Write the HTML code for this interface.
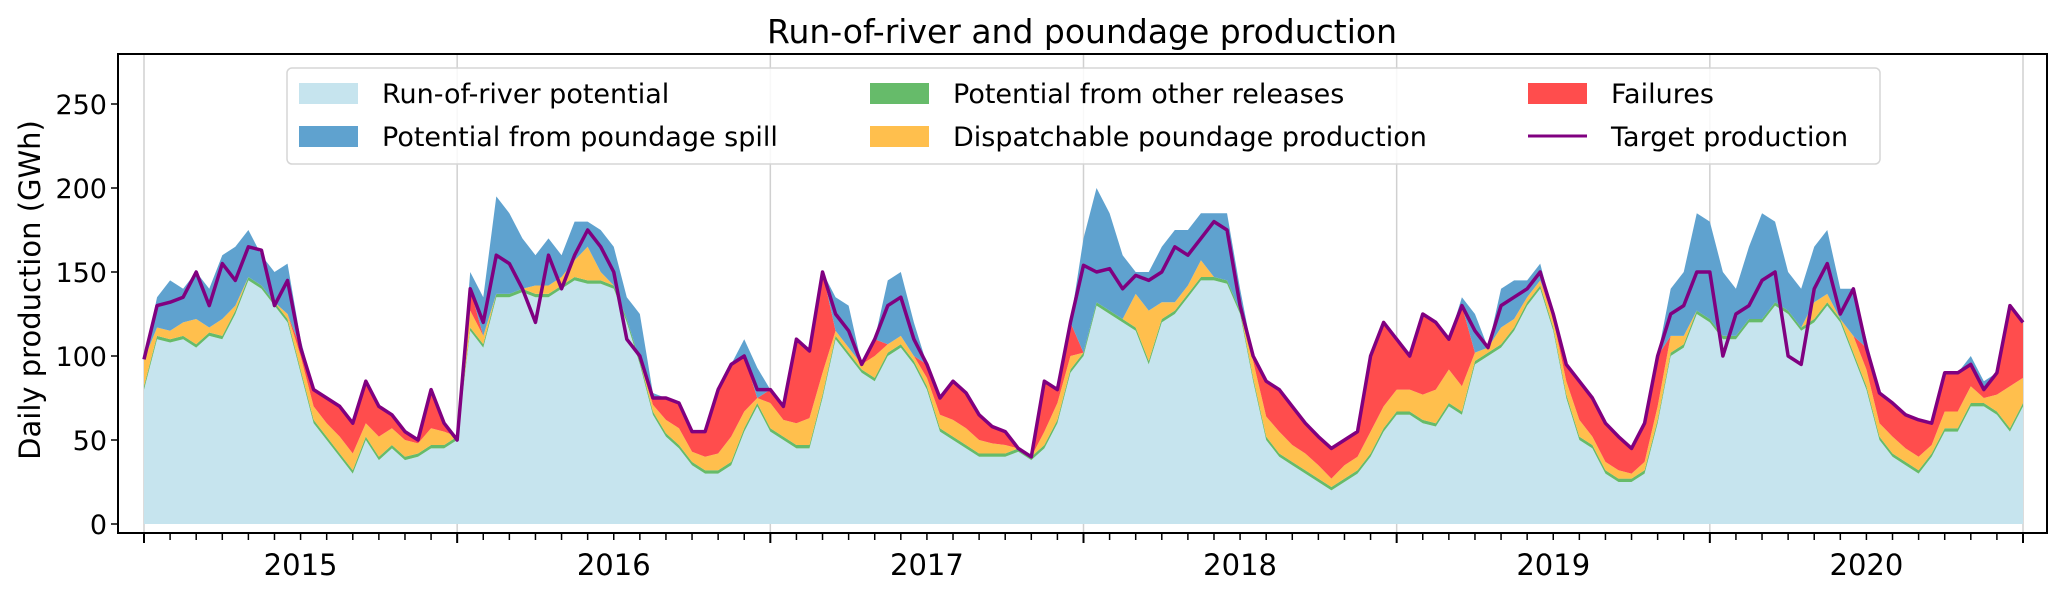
<!DOCTYPE html>
<html><head><meta charset="utf-8"><style>
html,body{margin:0;padding:0;background:#fff;}
svg{display:block;font-family:"DejaVu Sans","Liberation Sans",sans-serif;}
</style></head><body>
<svg id="chart" width="2067" height="594" viewBox="0 0 2067 594" xmlns="http://www.w3.org/2000/svg">
<text x="1082" y="43" font-size="33" text-anchor="middle" fill="#000">Run-of-river and poundage production</text>
<text transform="translate(40,290) rotate(-90)" font-size="29" text-anchor="middle" fill="#000">Daily production (GWh)</text>
<g id="grid"></g>
<g id="areas"></g>
<g id="line"></g>
<g id="axes"></g>
<g id="legend">
  <rect x="287" y="68" width="1593" height="96" rx="5" fill="#fff" fill-opacity="0.85" stroke="#d6d6d6" stroke-width="1.5"/>
  <rect x="299" y="83" width="59" height="21" fill="#c6e4ee"/>
  <text x="382" y="103" font-size="27">Run-of-river potential</text>
  <rect x="299" y="126" width="59" height="21" fill="#5fa2cf"/>
  <text x="382" y="146" font-size="27">Potential from poundage spill</text>
  <rect x="870" y="83" width="59" height="21" fill="#66bb6a"/>
  <text x="953" y="103" font-size="27">Potential from other releases</text>
  <rect x="870" y="126" width="59" height="21" fill="#ffbf4d"/>
  <text x="953" y="146" font-size="27">Dispatchable poundage production</text>
  <rect x="1528" y="83" width="59" height="21" fill="#ff4d4d"/>
  <text x="1611" y="103" font-size="27">Failures</text>
  <line x1="1528" y1="136" x2="1587" y2="136" stroke="#800080" stroke-width="3"/>
  <text x="1611" y="146" font-size="27">Target production</text>
</g>
</svg>
<script>
const years = ["2015","2016","2017","2018","2019","2020"];
const yTicks = [0,50,100,150,200,250];
const river = [80,110,108,110,105,112,110,125,145,140,130,120,90,60,50,40,30,50,38,45,38,40,45,45,
50,115,105,135,135,138,135,135,140,145,143,143,140,120,95,65,52,45,35,30,30,35,55,70,
55,50,45,45,75,110,100,90,85,100,105,95,80,55,50,45,40,40,40,43,38,45,60,90,
100,130,125,120,115,95,120,125,135,145,145,143,125,85,50,40,35,30,25,20,25,30,40,55,
65,65,60,58,70,65,95,100,105,115,130,140,115,75,50,45,30,25,25,30,60,100,105,125,
120,110,110,120,120,130,125,115,120,130,120,100,80,50,40,35,30,40,55,55,70,70,65,55,70];
const other = [2,2,2,2,2,2,2,2,2,2,2,2,2,2,2,2,2,2,2,2,2,2,2,2,
2,2,2,2,2,2,2,2,2,2,2,2,2,2,2,2,2,2,2,2,2,2,2,2,
2,2,2,2,2,2,2,2,2,2,2,2,2,2,2,2,2,2,2,2,2,2,2,2,
2,2,2,2,2,2,2,2,2,2,2,2,2,2,2,2,2,2,2,2,2,2,2,2,
2,2,2,2,2,2,2,2,2,2,2,2,2,2,2,2,2,2,2,2,2,2,2,2,
2,2,2,2,2,2,2,2,2,2,2,2,2,2,2,2,2,2,2,2,2,2,2,2,2];
const dispatch = [16,5,5,8,15,3,10,3,0,0,0,3,8,8,8,10,10,8,12,10,10,6,10,8,
0,10,5,0,0,0,5,5,5,10,20,5,0,0,0,4,8,10,6,8,10,15,10,3,
15,10,13,16,13,3,3,3,13,5,5,3,5,8,10,10,8,6,5,0,0,8,10,8,
0,0,0,0,20,30,10,5,5,10,0,0,0,10,12,13,10,10,8,5,8,8,13,13,
13,13,15,20,20,15,5,3,10,5,3,3,5,8,10,5,5,5,3,5,8,10,5,0,
0,0,0,0,0,0,0,0,10,5,0,10,10,8,10,8,8,5,10,10,10,3,10,25,15];
const failures = [0,0,0,0,0,0,0,0,0,0,0,0,5,10,15,18,18,25,18,8,5,2,23,5,
0,13,0,0,0,0,0,0,0,0,0,0,0,0,0,4,13,15,12,15,38,43,33,0,
8,8,50,40,60,0,0,0,10,0,0,0,8,10,23,21,15,10,8,0,0,30,8,20,
0,0,0,0,0,0,0,0,0,0,0,0,0,3,21,25,23,18,17,18,15,15,45,50,
30,20,48,40,18,48,0,0,0,0,0,0,3,10,23,23,23,20,15,23,30,0,0,0,
0,0,0,0,0,0,0,0,0,0,0,0,13,18,20,20,22,13,23,23,13,5,13,48,33];
const spill = [0,18,30,20,28,23,38,35,28,18,18,30,5,0,0,0,0,0,0,0,0,0,0,0,
0,10,23,58,48,30,18,28,13,23,15,25,23,13,28,3,0,0,0,0,0,0,10,18,
0,0,0,0,0,20,25,0,0,38,38,20,0,0,0,0,0,0,0,0,0,0,0,0,
68,68,58,38,13,23,33,43,33,28,38,40,13,0,0,0,0,0,0,0,0,0,0,0,
0,0,0,0,0,5,23,0,23,23,10,10,0,0,0,0,0,0,0,0,0,28,38,58,
58,38,28,43,63,48,23,23,33,38,18,28,5,0,0,0,0,0,0,0,5,5,0,0,0];
const target = [98,130,132,135,150,130,155,145,165,163,130,145,105,80,75,70,60,85,70,65,55,50,80,60,
50,140,120,160,155,140,120,160,140,160,175,165,150,110,100,75,75,72,55,55,80,95,100,80,
80,70,110,103,150,125,115,95,110,130,135,110,95,75,85,78,65,58,55,45,40,85,80,120,
154,150,152,140,148,145,150,165,160,170,180,175,130,100,85,80,70,60,52,45,50,55,100,120,
110,100,125,120,110,130,115,105,130,135,140,150,125,95,85,75,60,52,45,60,100,125,130,150,
150,100,125,130,145,150,100,95,140,155,125,140,105,78,72,65,62,60,90,90,95,80,90,130,120];

const NS = "http://www.w3.org/2000/svg";
const L = 118, R = 2047, T = 54, B = 533;
const X0 = 144, X1 = 2023, Y0 = 524, PXU = 1.68;
const N = river.length;
const xs = i => X0 + i * (X1 - X0) / (N - 1);
const ys = v => Y0 - v * PXU;
function mk(tag, attrs, parent){const e=document.createElementNS(NS,tag);for(const k in attrs)e.setAttribute(k,attrs[k]);parent.appendChild(e);return e;}

const grid = document.getElementById('grid');
for (let yi = 0; yi <= years.length; yi++) {
  const x = xs(yi * 24);
  const g = mk('line',{x1:x,y1:T,x2:x,y2:B,stroke:'#d0d0d0','stroke-width':1.5},grid);
  
  
}

const layers = [river, other, dispatch, failures, spill];
const colors = ['#c6e4ee','#66bb6a','#ffbf4d','#ff4d4d','#5fa2cf'];
const names = ['area-run-of-river','area-other-releases','area-dispatchable','area-failures','area-spill'];
const areas = document.getElementById('areas');
let base = new Array(N).fill(0);
layers.forEach((arr, li) => {
  const top = base.map((b,i)=>b+arr[i]);
  let d = 'M' + xs(0) + ',' + ys(top[0]);
  for (let i=1;i<N;i++) d += 'L' + xs(i) + ',' + ys(top[i]);
  for (let i=N-1;i>=0;i--) d += 'L' + xs(i) + ',' + ys(base[i]);
  d += 'Z';
  const p = mk('path',{d:d,fill:colors[li],stroke:'none'},areas);
  
  
  base = top;
});

const lineG = document.getElementById('line');
let ld = '';
for (let i=0;i<N;i++) ld += (i?'L':'M') + xs(i) + ',' + ys(target[i]);
const tl = mk('path',{d:ld,fill:'none',stroke:'#800080','stroke-width':3.5,'stroke-linejoin':'round'},lineG);



const axes = document.getElementById('axes');
const frame = mk('rect',{x:L,y:T,width:R-L,height:B-T,fill:'none',stroke:'#000','stroke-width':2},axes);


yTicks.forEach(v => {
  const y = ys(v);
  const t = mk('line',{x1:L-7,y1:y,x2:L,y2:y,stroke:'#000','stroke-width':1.5},axes);
  
  
  const lb = mk('text',{x:L-11,y:y+10,'font-size':27,'text-anchor':'end',fill:'#000'},axes);
  lb.textContent = v;
  
  
});
const months = years.length * 12;
for (let m = 0; m <= months; m++) {
  const x = xs(m * 2);
  const major = (m % 12 === 0);
  const t = mk('line',{x1:x,y1:B,x2:x,y2:B+(major?10:7),stroke:'#000','stroke-width':major?2:1.5},axes);
  
  
}
years.forEach((yr, k) => {
  const x = xs(k * 24 + 12);
  const lb = mk('text',{x:x,y:575,'font-size':29,'text-anchor':'middle',fill:'#000'},axes);
  lb.textContent = yr;
  
  
});
</script>
</body></html>
